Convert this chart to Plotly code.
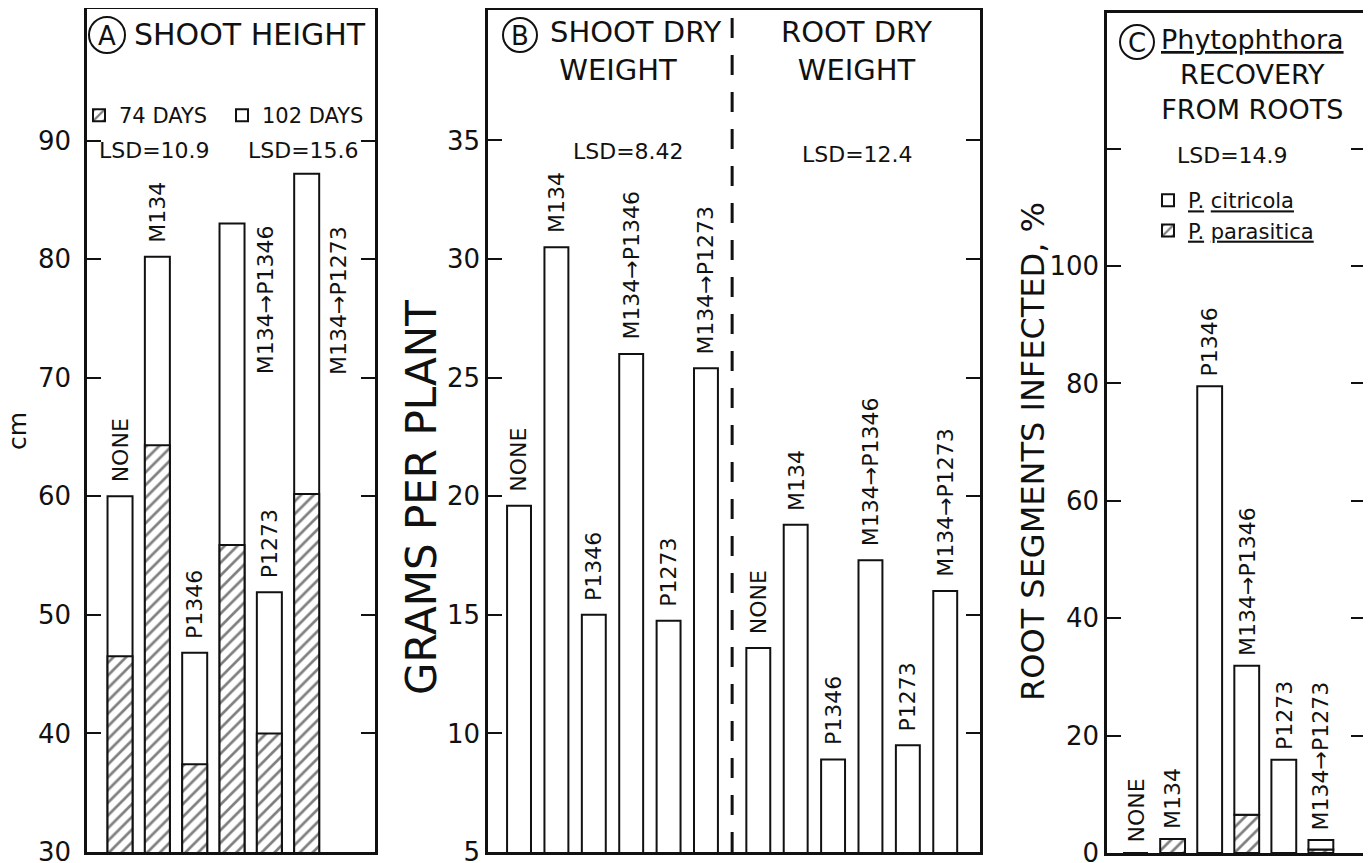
import plotly.graph_objects as go

W, H = 1371, 863
OFF = 8                      # page body margin of the exported html
FW, FH = W - OFF, H - OFF    # figure size that fits the window
FONT = "DejaVu Sans"
INK = "#111111"

# ---------------- data ----------------
treatments = ["NONE", "M134", "P1346", "M134→P1346", "P1273", "M134→P1273"]

# Panel A: shoot height (cm)
a_days74 = [46.5, 64.3, 37.4, 55.9, 40.0, 60.2]
a_days102 = [60.0, 80.2, 46.8, 83.0, 51.9, 87.2]

# Panel B: dry weight (g per plant)
b_shoot_dry = [19.6, 30.5, 15.0, 26.0, 14.75, 25.4]
b_root_dry = [13.6, 18.8, 8.9, 17.3, 9.5, 16.0]

# Panel C: root segments infected (%)
c_citricola = [0.0, 0.0, 79.5, 25.4, 15.9, 1.6]
c_parasitica = [0.0, 2.4, 0.0, 6.5, 0.0, 0.6]

a_yticks = [30, 40, 50, 60, 70, 80, 90]
b_yticks = [5, 10, 15, 20, 25, 30, 35]
c_yticks = [0, 20, 40, 60, 80, 100, 120]
c_yticktext = ["0", "20", "40", "60", "80", "100", ""]


# --------------- helpers ---------------
def px(x):
    return (x - OFF) / FW


def py(y):
    return 1 - (y - OFF) / FH


def dom(a, b):
    return [max(0.0, min(1.0, a)), max(0.0, min(1.0, b))]


pos = list(range(len(treatments)))
root_gap = 1.4
root_pos = [p + len(treatments) - 1 + root_gap for p in pos]
divider_x = (pos[-1] + root_pos[0]) / 2

hatch = dict(shape="/", fgcolor="black", bgcolor="white", size=9, solidity=0.3)
outline = dict(color=INK, width=2)

fig = go.Figure()

# Panel A
fig.add_trace(go.Bar(x=pos, y=a_days102, width=0.67, name="102 DAYS",
                     marker=dict(color="white", line=outline),
                     legend="legend", legendrank=2, xaxis="x", yaxis="y"))
fig.add_trace(go.Bar(x=pos, y=a_days74, width=0.67, name="74 DAYS",
                     marker=dict(color="white", line=outline, pattern=hatch),
                     legend="legend", legendrank=1, xaxis="x", yaxis="y"))
# Panel B
fig.add_trace(go.Bar(x=pos, y=b_shoot_dry, width=0.64, showlegend=False,
                     marker=dict(color="white", line=outline), xaxis="x2", yaxis="y2"))
fig.add_trace(go.Bar(x=root_pos, y=b_root_dry, width=0.64, showlegend=False,
                     marker=dict(color="white", line=outline), xaxis="x2", yaxis="y2"))
# Panel C
fig.add_trace(go.Bar(x=pos, y=c_parasitica, width=0.67, name="<u>P.</u> <u>parasitica</u>",
                     marker=dict(color="white", line=outline, pattern=hatch),
                     legend="legend2", legendrank=2, xaxis="x3", yaxis="y3"))
fig.add_trace(go.Bar(x=pos, y=c_citricola, base=c_parasitica, width=0.67,
                     name="<u>P.</u> <u>citricola</u>",
                     marker=dict(color="white", line=outline),
                     legend="legend2", legendrank=1, xaxis="x3", yaxis="y3"))


def yax(domain, rng, tickvals, anchor, standoff, ticktext=None):
    d = dict(domain=domain, range=rng, tickvals=tickvals, ticks="inside", ticklen=14,
             tickwidth=2, tickcolor=INK, showline=True, linecolor=INK, linewidth=2.5,
             mirror="ticks", showgrid=False, zeroline=False, anchor=anchor,
             ticklabelstandoff=standoff, ticklabeloverflow="allow", automargin=False,
             tickfont=dict(family=FONT, size=26, color=INK), fixedrange=True)
    if ticktext is not None:
        d["ticktext"] = ticktext
    return d


def xax(domain, rng, anchor):
    return dict(domain=domain, range=rng, showline=True, linecolor=INK, linewidth=2.5,
                mirror=True, ticks="", showticklabels=False, showgrid=False,
                zeroline=False, anchor=anchor, fixedrange=True, automargin=False)


fig.update_layout(
    width=FW, height=FH, margin=dict(l=0, r=0, t=0, b=0, autoexpand=False),
    paper_bgcolor="white", plot_bgcolor="white", barmode="overlay",
    font=dict(family=FONT, color=INK),
    xaxis=xax(dom(px(87), px(375)), [-0.885, 6.83], "y"),
    yaxis=yax(dom(py(852), py(9)), [30, 101.1], a_yticks, "x", 8),
    xaxis2=xax(dom(px(488), px(980)), [-0.83, 12.33], "y2"),
    yaxis2=yax(dom(py(852), py(10)), [5, 40.5], b_yticks, "x2", 0),
    xaxis3=xax(dom(px(1107), px(1365)), [-0.77, 6.19], "y3"),
    yaxis3=yax(dom(py(853), py(13)), [0, 143.1], c_yticks, "x3", 0, c_yticktext),
    legend=dict(orientation="h", x=px(79), y=py(95), xanchor="left", yanchor="top",
                font=dict(family=FONT, size=21, color=INK), entrywidth=98,
                entrywidthmode="pixels", bgcolor="rgba(0,0,0,0)", itemclick=False),
    legend2=dict(orientation="v", x=px(1148), y=py(180), xanchor="left", yanchor="top",
                 font=dict(family=FONT, size=21, color=INK), bgcolor="rgba(0,0,0,0)",
                 itemclick=False),
)

shapes = []
for cx, cy, r in [(107, 35, 18), (520, 35, 17), (1137, 42, 17)]:
    shapes.append(dict(type="circle", xref="paper", yref="paper",
                       x0=px(cx - r), x1=px(cx + r), y0=py(cy + r), y1=py(cy - r),
                       line=dict(color=INK, width=2)))
shapes.append(dict(type="line", xref="x2", yref="y2 domain", x0=divider_x, x1=divider_x,
                   y0=0, y1=1, line=dict(color=INK, width=3, dash="20px,17px")))
fig.update_layout(shapes=shapes)

ann = []


def text(x, y, s, size, xanchor="center", angle=0, align="center"):
    ann.append(dict(x=px(x), y=py(y), xref="paper", yref="paper", text=s,
                    showarrow=False, xanchor=xanchor, yanchor="middle", textangle=angle,
                    align=align, font=dict(family=FONT, size=size, color=INK)))


# panel titles
text(107, 36, "A", 26)
text(132, 35, "SHOOT HEIGHT", 30, "left")
text(520, 36, "B", 26)
text(548, 51, "SHOOT DRY<br> WEIGHT", 29, "left", align="left")
text(856, 51, "ROOT DRY<br>WEIGHT", 29)
text(1137, 43, "C", 26)
text(1252, 75, "<u>Phytophthora</u><br>RECOVERY<br>FROM ROOTS", 27)
# LSD values
text(97, 150, "LSD=10.9", 22, "left")
text(246, 150, "LSD=15.6", 22, "left")
text(628, 152, "LSD=8.42", 22)
text(857, 155, "LSD=12.4", 22)
text(1232, 156, "LSD=14.9", 22)
# axis titles
text(17, 431, "cm", 25, angle=-90)
text(421, 497, "GRAMS PER PLANT", 42, angle=-90)
text(1033, 452, "ROOT SEGMENTS INFECTED, %", 32, angle=-90)


def bar_labels(xref, yref, xs, tops, labels, special=None, gap=12):
    special = special or {}
    for i, (x, t, lab) in enumerate(zip(xs, tops, labels)):
        d = dict(x=x, y=t, xref=xref, yref=yref, text=lab, showarrow=False,
                 textangle=-90, xanchor="center", yanchor="bottom", yshift=gap,
                 font=dict(family=FONT, size=22, color=INK))
        if i in special:
            d.update(special[i])
        ann.append(d)


bar_labels("x", "y", pos, a_days102, treatments,
           special={3: dict(xshift=33, yanchor="top", yshift=0),
                    5: dict(xshift=32, yanchor="top", yshift=-50)})
bar_labels("x2", "y2", pos, b_shoot_dry, treatments)
bar_labels("x2", "y2", root_pos, b_root_dry, treatments)
c_tops = [a + b for a, b in zip(c_citricola, c_parasitica)]
bar_labels("x3", "y3", pos, c_tops, treatments, gap=8)

fig.update_layout(annotations=ann)
fig.write_html("out.html")
